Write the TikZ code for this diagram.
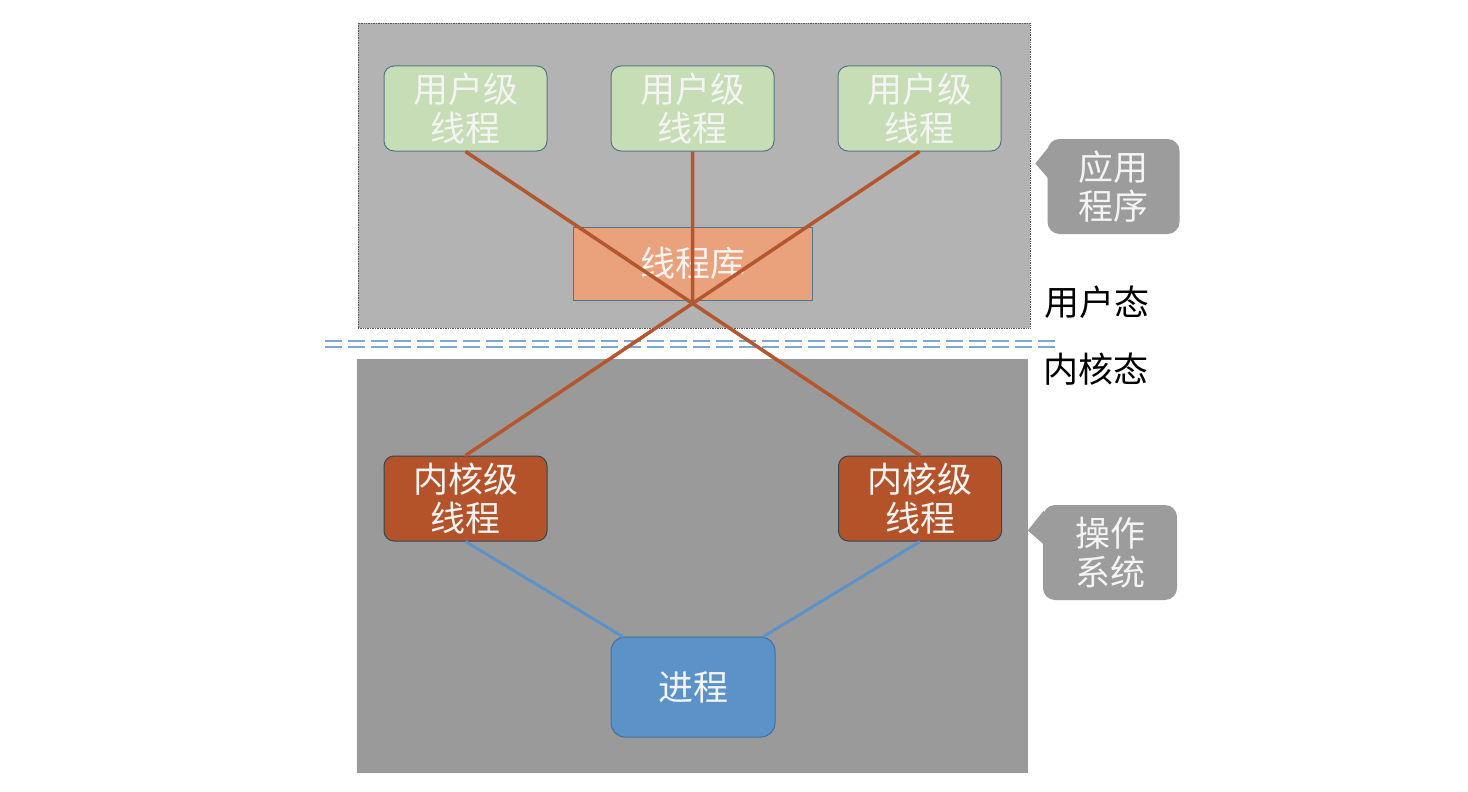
\documentclass[tikz,border=0pt]{standalone}
\usepackage{fontspec}
\newfontfamily\cjk{Noto Sans CJK SC}
\usetikzlibrary{calc}
\definecolor{topbg}{HTML}{B3B3B3}
\definecolor{botbg}{HTML}{9A9A9A}
\definecolor{ugreen}{HTML}{C6DDB5}
\definecolor{uborder}{HTML}{55768A}
\definecolor{libfill}{HTML}{E9A27C}
\definecolor{kfill}{HTML}{B4532A}
\definecolor{kline}{HTML}{B5572E}
\definecolor{pfill}{HTML}{5B93C9}
\definecolor{pborder}{HTML}{41719C}
\definecolor{callgrey}{HTML}{9C9C9C}
\definecolor{sepblue}{HTML}{7FA7D0}
\definecolor{txtwhite}{HTML}{F4F4F4}
\tikzset{
  lbl/.style={font=\cjk\fontsize{35}{39}\selectfont, align=center, text=txtwhite, inner sep=0pt},
  uthread/.style={lbl, draw=uborder, line width=1pt, fill=ugreen, rounded corners=10pt, minimum width=163pt, minimum height=85pt},
  kthread/.style={lbl, draw=uborder!60!black, line width=1pt, fill=kfill, rounded corners=10pt, minimum width=163pt, minimum height=85pt},
  libbox/.style={lbl, draw=uborder, line width=1pt, fill=libfill, minimum width=239pt, minimum height=73pt},
  procbox/.style={lbl, draw=pborder, line width=1pt, fill=pfill, rounded corners=14pt, minimum width=164pt, minimum height=100pt},
  callout/.style={lbl, fill=callgrey, rounded corners=12pt},
  plain/.style={font=\cjk\fontsize{35}{39}\selectfont, text=black, inner sep=0pt},
  redline/.style={draw=kline, line width=3.5pt},
  blueline/.style={draw=pfill, line width=3pt},
  sep/.style={draw=sepblue, line width=2.4pt, dash pattern=on 17pt off 6pt}
}
\begin{document}
\begin{tikzpicture}[x=1pt,y=-1pt]
\useasboundingbox[fill=white] (0,0) rectangle (1468,792);
% regions
\node[draw=gray!70!black, densely dotted, line width=0.7pt, fill=topbg, minimum width=672pt, minimum height=305pt, inner sep=0pt] (user) at (694,175.5) {};
\node[draw=gray!80, line width=0.8pt, fill=botbg, minimum width=670pt, minimum height=413pt, inner sep=0pt] (kernel) at (692,565.5) {};
% separator
\coordinate (sepL1) at (325,341);
\coordinate (sepR1) at (1058,341);
\coordinate (sepL2) at (325,347);
\coordinate (sepR2) at (1058,347);
\draw[sep] (sepL1) -- (sepR1);
\draw[sep] (sepL2) -- (sepR2);
% nodes
\node[uthread] (u1) at (465.5,108.5) {用户级\\线程};
\node[uthread] (u2) at (692.5,108.5) {用户级\\线程};
\node[uthread] (u3) at (919.5,108.5) {用户级\\线程};
\node[libbox] (lib) at (692.5,263.5) {线程库};
\node[kthread] (k1) at (465.5,498.5) {内核级\\线程};
\node[kthread] (k2) at (920,498.5) {内核级\\线程};
\node[procbox] (p) at (693,687) {进程};
% connectors
\coordinate (X) at (intersection of u1.south--k2.north and u3.south--k1.north);
\draw[redline] (u1.south) -- (k2.north);
\draw[redline] (u3.south) -- (k1.north);
\draw[redline] (u2.south) -- (X);
\draw[blueline] (k1.south) -- ($(p.north west)+(12,0)$);
\draw[blueline] (k2.south) -- ($(p.north east)+(-12,0)$);
% callouts
\node[callout, minimum width=132pt, minimum height=95pt] (app) at (1113.5,186.5) {应用\\程序};
\fill[callgrey] ($(app.west)+(1,-39)$) -- ($(app.west)+(-12,-23)$) -- ($(app.west)+(1,-8)$) -- cycle;
\node[callout, minimum width=134pt, minimum height=95pt] (os) at (1110,552.5) {操作\\系统};
\fill[callgrey] ($(os.west)+(1,-42)$) -- ($(os.west)+(-15,-22)$) -- ($(os.west)+(1,-8)$) -- cycle;
% state labels
\node[plain] (us) at (1097,302) {用户态};
\node[plain] (ks) at (1096,369) {内核态};
\end{tikzpicture}
\end{document}
